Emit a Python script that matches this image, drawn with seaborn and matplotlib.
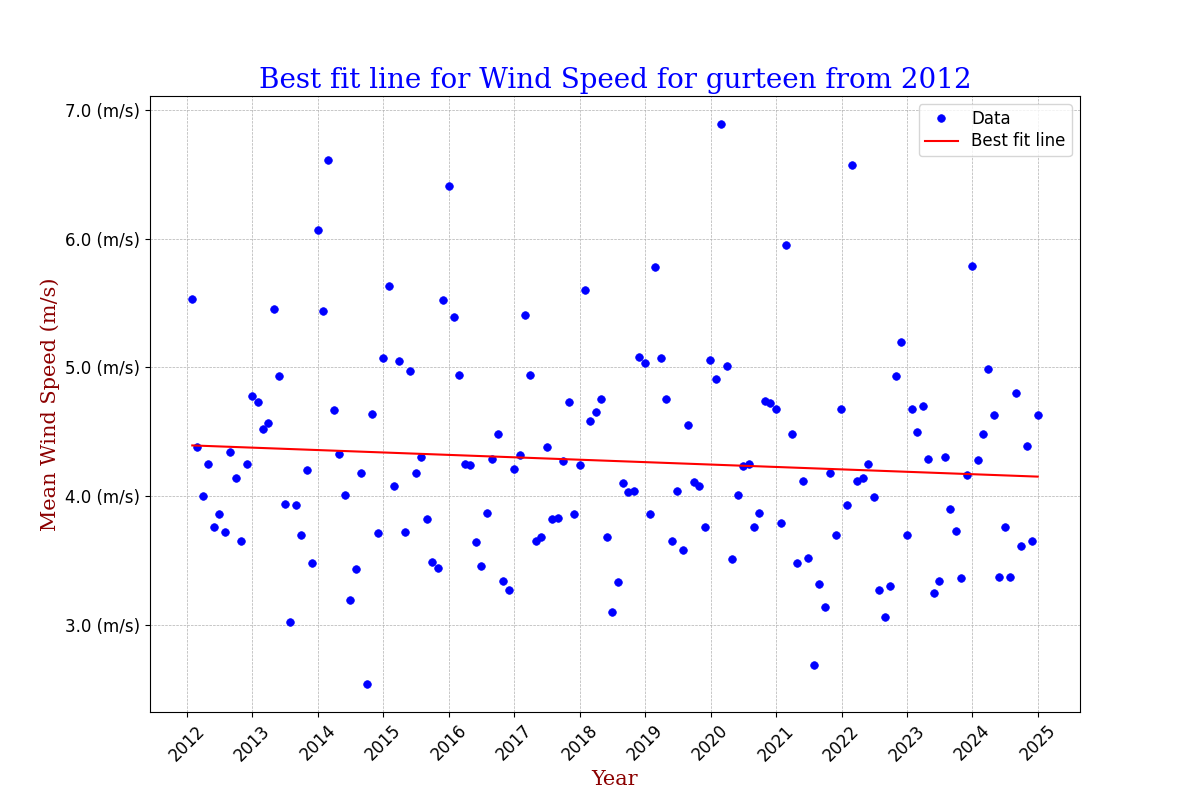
import numpy as np
import pandas as pd
import matplotlib
matplotlib.use("Agg")
import matplotlib.pyplot as plt
import matplotlib.dates as mdates
import matplotlib.ticker as mticker
import seaborn as sns

# monthly mean wind speed (m/s), Jan..Dec for each year
wind_2012 = [5.53, 4.38, 4.00, 4.25, 3.76, 3.86, 3.72, 4.34, 4.14, 3.65, 4.25, 4.78]
wind_2013 = [4.73, 4.52, 4.57, 5.45, 4.93, 3.94, 3.02, 3.93, 3.70, 4.20, 3.48, 6.07]
wind_2014 = [5.44, 6.61, 4.67, 4.33, 4.01, 3.19, 3.43, 4.18, 2.54, 4.64, 3.71, 5.07]
wind_2015 = [5.63, 4.08, 5.05, 3.72, 4.97, 4.18, 4.30, 3.82, 3.49, 3.44, 5.52, 6.41]
wind_2016 = [5.39, 4.94, 4.25, 4.24, 3.64, 3.46, 3.87, 4.29, 4.48, 3.34, 3.27, 4.21]
wind_2017 = [4.32, 5.41, 4.94, 3.65, 3.68, 4.38, 3.82, 3.83, 4.27, 4.73, 3.86, 4.24]
wind_2018 = [5.60, 4.58, 4.65, 4.75, 3.68, 3.10, 3.33, 4.10, 4.03, 4.04, 5.08, 5.03]
wind_2019 = [3.86, 5.78, 5.07, 4.75, 3.65, 4.04, 3.58, 4.55, 4.11, 4.08, 3.76, 5.06]
wind_2020 = [4.91, 6.89, 5.01, 3.51, 4.01, 4.23, 4.25, 3.76, 3.87, 4.74, 4.72, 4.68]
wind_2021 = [3.79, 5.95, 4.48, 3.48, 4.12, 3.52, 2.69, 3.32, 3.14, 4.18, 3.70, 4.68]
wind_2022 = [3.93, 6.57, 4.12, 4.14, 4.25, 3.99, 3.27, 3.06, 3.30, 4.93, 5.20, 3.70]
wind_2023 = [4.68, 4.50, 4.70, 4.29, 3.25, 3.34, 4.30, 3.90, 3.73, 3.36, 4.16, 5.79]
wind_2024 = [4.28, 4.48, 4.99, 4.63, 3.37, 3.76, 3.37, 4.80, 3.61, 4.39, 3.65, 4.63]

wind = (wind_2012 + wind_2013 + wind_2014 + wind_2015 + wind_2016 + wind_2017 + wind_2018
        + wind_2019 + wind_2020 + wind_2021 + wind_2022 + wind_2023 + wind_2024)
dates = pd.date_range("2012-01-31", periods=len(wind), freq="ME")

df = pd.DataFrame({"Date": dates, "Wind": wind})

# best fit line through the monthly values
x_num = mdates.date2num(df["Date"])
slope, intercept = np.polyfit(x_num, df["Wind"], 1)
df["Fit"] = slope * x_num + intercept

fig, ax = plt.subplots(figsize=(12, 8), dpi=100)

# points drawn as a marker-only line so the legend shows a plain dot
sns.lineplot(data=df, x="Date", y="Wind", color="blue", marker="o", linestyle="",
             markersize=5.5, markeredgecolor="blue", markeredgewidth=0.5,
             label="Data", ax=ax)
sns.lineplot(data=df, x="Date", y="Fit", color="red", linewidth=1.5,
             label="Best fit line", ax=ax)

ax.set_title("Best fit line for Wind Speed for gurteen from 2012",
             fontsize=20, color="blue", family="serif")
ax.set_xlabel("Year", fontsize=15, color="darkred", family="serif")
ax.set_ylabel("Mean Wind Speed (m/s)", fontsize=15, color="darkred", family="serif")

ax.xaxis.set_major_locator(mdates.YearLocator())
ax.xaxis.set_major_formatter(mdates.DateFormatter("%Y"))
ax.yaxis.set_major_locator(mticker.MultipleLocator(1.0))
ax.yaxis.set_major_formatter(mticker.FuncFormatter(lambda v, p: f"{v:.1f} (m/s)"))
ax.tick_params(axis="both", labelsize=12)
plt.setp(ax.get_xticklabels(), rotation=45)

ax.grid(True, linestyle="--", linewidth=0.5, color="#b0b0b0")
ax.legend(loc="upper right", fontsize=12, labelspacing=0.25, borderpad=0.35)

fig.savefig("out.png", dpi=100)
